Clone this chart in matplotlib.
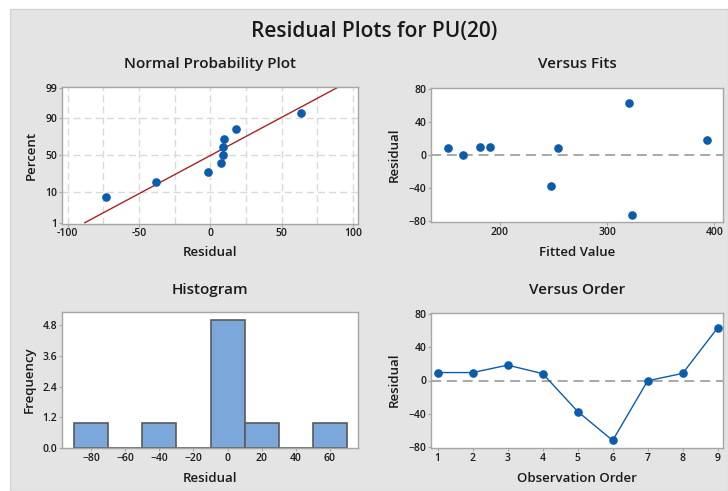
import matplotlib
matplotlib.use("Agg")
import matplotlib.pyplot as plt
from matplotlib.patches import Rectangle
from statistics import NormalDist
import numpy as np

# ---------------- data ----------------
order = [1, 2, 3, 4, 5, 6, 7, 8, 9]
residuals = [9.6, 9.6, 18.6, 8.3, -37.5, -72.5, -0.3, 8.6, 63.8]
fitted = [181, 191, 393, 152, 248, 323, 166, 254, 320]

npp_residuals = [-73.4, -37.9, -1.4, 7.5, 8.6, 8.6, 9.6, 18.2, 63.8]
npp_percent = [7.4, 18.1, 28.7, 39.4, 50.0, 60.6, 71.3, 81.9, 92.6]
npp_mean = 0.4
npp_sd = 38.0
npp_yticks = [1, 10, 50, 90, 99]
npp_xticks = [-100, -50, 0, 50, 100]
npp_xgrid = [-100, -75, -50, -25, 0, 25, 50, 75, 100]

hist_centers = [-80, -60, -40, -20, 0, 20, 40, 60]
hist_counts = [1, 0, 1, 0, 5, 1, 0, 1]
hist_width = 20
hist_yticks = [0.0, 1.2, 2.4, 3.6, 4.8]

fits_xticks = [200, 300, 400]
res_yticks = [-80, -40, 0, 40, 80]

title = "Residual Plots for PU(20)"

# ---------------- style ----------------
W, H = 728, 491
FONT = ["Open Sans", "DejaVu Sans"]
plt.rcParams["font.family"] = FONT
BG = "#e4e4e4"
PT = "#0b5cad"
SPINE = "#a6a6a6"
TXT = "#1a1a1a"

fig = plt.figure(figsize=(W / 100, H / 100), dpi=100)
fig.patch.set_facecolor("white")
fig.patches.append(Rectangle((10 / W, 0), 1 - 10 / W, 1 - 9 / H, transform=fig.transFigure,
                             facecolor=BG, edgecolor="#d4d4d4", lw=1.0, zorder=-10))


def pax(x0, y0, x1, y1):
    return fig.add_axes([x0 / W, 1 - y1 / H, (x1 - x0) / W, (y1 - y0) / H])


def style(ax):
    ax.set_facecolor("white")
    for s in ax.spines.values():
        s.set_color(SPINE)
        s.set_linewidth(1.0)
    ax.tick_params(length=2, width=0.8, color=SPINE, labelsize=7.5, labelcolor=TXT, pad=1.2)
    for lab in ax.get_xticklabels() + ax.get_yticklabels():
        lab.set_fontweight("semibold")


def ftext(x, y, s, size, rot=0, weight="semibold"):
    fig.text(x / W, 1 - y / H, s, ha="center", va="center", fontsize=size,
             rotation=rot, color=TXT, fontweight=weight)


nd = NormalDist()

# ---- Normal probability plot ----
ax1 = pax(61.7, 86.7, 358.3, 223.7)
zt = [nd.inv_cdf(p / 100) for p in npp_yticks]
for gx in npp_xgrid:
    ax1.axvline(gx, color="#d9d9d9", lw=1.0, ls=(0, (5, 3)), zorder=0)
for p in [10, 50, 90]:
    ax1.axhline(nd.inv_cdf(p / 100), color="#d9d9d9", lw=1.0, ls=(0, (5, 3)), zorder=0)
z_lo, z_hi = nd.inv_cdf(0.01), nd.inv_cdf(0.99)
ax1.plot([npp_mean + z_lo * npp_sd, npp_mean + z_hi * npp_sd], [z_lo, z_hi],
         color="#a82222", lw=1.0, zorder=2)
ax1.plot(npp_residuals, [nd.inv_cdf(p / 100) for p in npp_percent], "o", color=PT,
         ms=5.2, mec=PT, zorder=3)
ax1.set_xlim(-104.2, 103.7)
ax1.set_ylim(z_lo - 0.035, z_hi + 0.035)
ax1.set_yticks(zt)
ax1.set_yticklabels([str(v) for v in npp_yticks])
ax1.set_xticks(npp_xticks)
ax1.set_xticklabels([str(v) for v in npp_xticks])
style(ax1)

# ---- Versus fits ----
ax2 = pax(431, 87.7, 722.7, 222.3)
ax2.axhline(0, color="#9a9a9a", lw=1.2, ls=(0, (6, 3.5)), zorder=1)
ax2.plot(fitted, residuals, "o", color=PT, ms=5.2, mec=PT, zorder=3)
ax2.set_xlim(135.7, 407.7)
ax2.set_ylim(-82, 82)
ax2.set_xticks(fits_xticks)
ax2.set_yticks(res_yticks)
style(ax2)

# ---- Histogram ----
ax3 = pax(61.7, 312.3, 358.3, 448.3)
ax3.bar(hist_centers, hist_counts, width=hist_width, color="#7ba7db",
        edgecolor="#5a5a5a", lw=1.2, zorder=2)
ax3.set_xlim(-97.2, 76.6)
ax3.set_ylim(0, 5.29)
ax3.set_xticks(hist_centers)
ax3.set_yticks(hist_yticks)
ax3.set_yticklabels([f"{v:.1f}" for v in hist_yticks])
style(ax3)

# ---- Versus order ----
ax4 = pax(431, 312.7, 723.3, 448.3)
ax4.axhline(0, color="#9a9a9a", lw=1.2, ls=(0, (6, 3.5)), zorder=1)
ax4.plot(order, residuals, "-o", color=PT, lw=1.0, ms=5.2, mec=PT, zorder=3)
ax4.set_xlim(0.81, 9.16)
ax4.set_ylim(-82, 82)
ax4.set_xticks(order)
ax4.set_yticks(res_yticks)
style(ax4)

# ---- texts ----
ftext(374, 32, title, 15)
ftext(210, 64, "Normal Probability Plot", 11)
ftext(577, 64, "Versus Fits", 11)
ftext(210, 290, "Histogram", 11)
ftext(577, 290, "Versus Order", 11)
ftext(210, 253, "Residual", 9.5)
ftext(577, 253, "Fitted Value", 9.5)
ftext(210, 479, "Residual", 9.5)
ftext(577, 479, "Observation Order", 9.5)
ftext(31, 155, "Percent", 9.5, rot=90)
ftext(394, 155, "Residual", 9.5, rot=90)
ftext(29.5, 380, "Frequency", 9.5, rot=90)
ftext(394, 380, "Residual", 9.5, rot=90)

fig.savefig("out.png", dpi=100, facecolor=fig.get_facecolor())
